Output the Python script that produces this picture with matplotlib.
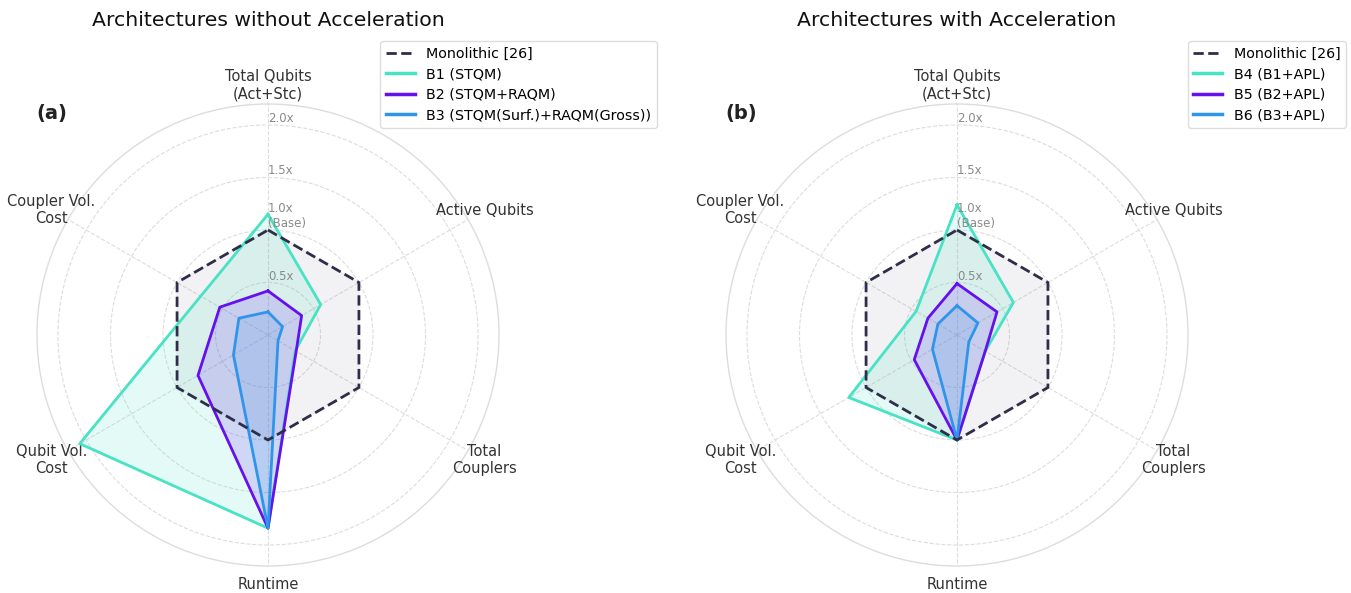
import numpy as np
import matplotlib
matplotlib.use("Agg")
import matplotlib.pyplot as plt
from matplotlib.lines import Line2D

# Metric axes (clockwise from the top)
categories = ["Total Qubits\n(Act+Stc)", "Active Qubits", "Total\nCouplers",
              "Runtime", "Qubit Vol.\nCost", "Coupler Vol.\nCost"]

# Radial scale (normalised to the monolithic baseline)
r_ticks = [0.5, 1.0, 1.5, 2.0]
r_tick_labels = ["0.5x", "1.0x\n(Base)", "1.5x", "2.0x"]
r_max = 2.2

# Baseline
monolithic = [1.0, 1.0, 1.0, 1.0, 1.0, 1.0]

# Architectures without acceleration
b1 = [1.15, 0.58, 0.30, 1.84, 2.07, 0.74]
b2 = [0.42, 0.37, 0.31, 1.84, 0.77, 0.53]
b3 = [0.22, 0.16, 0.11, 1.84, 0.38, 0.32]

# Architectures with acceleration (APL)
b4 = [1.24, 0.62, 0.31, 1.00, 1.19, 0.45]
b5 = [0.49, 0.44, 0.31, 1.00, 0.47, 0.32]
b6 = [0.28, 0.23, 0.13, 1.00, 0.27, 0.21]

labels_a = ["B1 (STQM)", "B2 (STQM+RAQM)", "B3 (STQM(Surf.)+RAQM(Gross))"]
labels_b = ["B4 (B1+APL)", "B5 (B2+APL)", "B6 (B3+APL)"]
baseline_label = "Monolithic [26]"

titles = ["Architectures without Acceleration", "Architectures with Acceleration"]
panel_tags = ["(a)", "(b)"]

COL_BASE = "#2E2E4A"
COLORS = ["#48E2C4", "#6610EE", "#2F95EA"]
GRID = "#DDDDDD"

W, H = 1351, 593
fig = plt.figure(figsize=(W / 100, H / 100), dpi=100)

angles = np.linspace(0, 2 * np.pi, len(categories), endpoint=False)
label_radius = r_max * 1.082


def closed(vals):
    v = list(vals)
    return np.append(angles, angles[0]), np.array(v + [v[0]])


def radar(ax, series, names, legend_right):
    ax.set_theta_zero_location("N")
    ax.set_theta_direction(-1)
    ax.set_ylim(0, r_max)

    th, rv = closed(monolithic)
    ax.fill(th, rv, color=COL_BASE, alpha=0.06, zorder=2)
    ax.plot(th, rv, color=COL_BASE, lw=2, ls="--", zorder=6)

    for vals, col in zip(series, COLORS):
        th, rv = closed(vals)
        ax.fill(th, rv, color=col, alpha=0.15, zorder=3)
        ax.plot(th, rv, color=col, lw=2, zorder=5)

    # category labels centred just outside the outer ring
    ax.set_xticks(angles)
    ax.set_xticklabels([])
    for a, lab in zip(angles, categories):
        ax.text(a, label_radius, lab, ha="center", va="center",
                fontsize=10.5, color="#333333", clip_on=False)

    ax.set_yticks(r_ticks)
    ax.set_yticklabels([])
    for r, lab in zip(r_ticks, r_tick_labels):
        ax.text(0, r, lab, ha="left", va="bottom", fontsize=8.5,
                color="#8A8A8A", zorder=7)

    ax.xaxis.grid(True, color=GRID, ls="--", lw=0.8)
    ax.yaxis.grid(True, color=GRID, ls="--", lw=0.8)
    ax.spines["polar"].set_color(GRID)
    ax.spines["polar"].set_linewidth(1.0)

    handles = [Line2D([], [], color=COL_BASE, lw=2, ls="--")]
    handles += [Line2D([], [], color=c, lw=2.5) for c in COLORS]
    ax.legend(handles, [baseline_label] + names, loc="upper right",
              bbox_to_anchor=(legend_right / W, 1 - 41 / H),
              bbox_transform=fig.transFigure, fontsize=10.3,
              labelspacing=0.45, borderaxespad=0, framealpha=1,
              edgecolor="#DDDDDD")


radius_px = 231
centers = [(268, 335), (957, 335)]
legend_rights = [657, 1346]
panel_x = [52, 741]
groups = [(b1, b2, b3), (b4, b5, b6)]
names = [labels_a, labels_b]

for i, (cx, cy) in enumerate(centers):
    ax = fig.add_axes([(cx - radius_px) / W, (H - cy - radius_px) / H,
                       2 * radius_px / W, 2 * radius_px / H], projection="polar")
    radar(ax, groups[i], names[i], legend_rights[i])
    fig.text(cx / W, 1 - 21 / H, titles[i], ha="center", va="center",
             fontsize=14.7, color="#111111")
    fig.text(panel_x[i] / W, 1 - 113 / H, panel_tags[i], ha="center",
             va="center", fontsize=14, fontweight="bold", color="#222222")

fig.savefig("out.png", dpi=100)
